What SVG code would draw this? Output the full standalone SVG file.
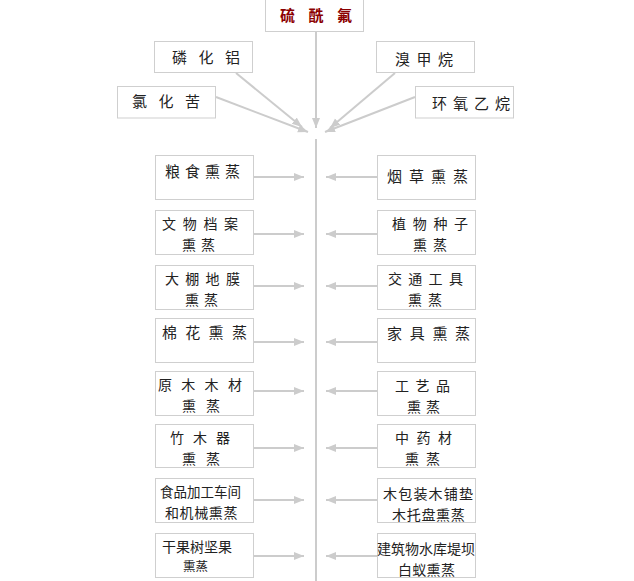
<svg xmlns="http://www.w3.org/2000/svg" width="634" height="581" viewBox="0 0 634 581">
<style>
.box{fill:#fff;stroke:#cfcfcf;stroke-width:1}
.t{font-family:"Noto Sans CJK SC","Noto Sans",sans-serif;font-size:15px;fill:#222}
.s{font-size:14px}
.title{font-family:"Noto Sans CJK SC",sans-serif;font-size:15px;font-weight:bold;fill:#8b0000}
.c{stroke:#cccccc;stroke-width:2;fill:none;marker-end:url(#ah)}
.ln{stroke:#cccccc;stroke-width:2;fill:none}
</style>
<defs>
<marker id="ah" markerUnits="userSpaceOnUse" markerWidth="11" markerHeight="9" refX="10" refY="4" orient="auto">
<path d="M0,0 L10,4 L0,8 z" fill="#cccccc"/>
</marker>
</defs>
<rect width="634" height="581" fill="#fff"/>
<g id="connectors">
<line class="c" x1="316" y1="32" x2="316" y2="128"/>
<line class="c" x1="236" y1="73" x2="302" y2="127"/>
<line class="c" x1="216" y1="97" x2="308" y2="132"/>
<line class="c" x1="395" y1="73" x2="330" y2="128"/>
<line class="c" x1="415" y1="97" x2="325" y2="132"/>
<line class="ln" x1="316" y1="139" x2="316" y2="581"/>
<line class="c" x1="253" y1="177" x2="304" y2="177"/>
<line class="c" x1="377" y1="177" x2="326" y2="177"/>
<line class="c" x1="253" y1="234" x2="304" y2="234"/>
<line class="c" x1="377" y1="234" x2="326" y2="234"/>
<line class="c" x1="253" y1="286" x2="304" y2="286"/>
<line class="c" x1="377" y1="286" x2="326" y2="286"/>
<line class="c" x1="253" y1="342" x2="304" y2="342"/>
<line class="c" x1="377" y1="342" x2="326" y2="342"/>
<line class="c" x1="253" y1="391" x2="304" y2="391"/>
<line class="c" x1="377" y1="391" x2="326" y2="391"/>
<line class="c" x1="253" y1="448" x2="304" y2="448"/>
<line class="c" x1="377" y1="448" x2="326" y2="448"/>
<line class="c" x1="253" y1="500" x2="304" y2="500"/>
<line class="c" x1="377" y1="500" x2="326" y2="500"/>
<line class="c" x1="253" y1="556" x2="304" y2="556"/>
<line class="c" x1="377" y1="556" x2="326" y2="556"/>
</g>
<g id="n-sulfuryl">
<rect class="box" x="265.5" y="-1" width="98" height="32.5"/>
<text class="title" x="280" y="20.5" letter-spacing="13.5">硫酰氟</text>
</g>
<g id="n-alp">
<rect class="box" x="154.5" y="41.5" width="98" height="31"/>
<text class="t" x="172" y="63" letter-spacing="11.5">磷化铝</text>
</g>
<g id="n-chloropicrin">
<rect class="box" x="117.5" y="86.5" width="98" height="31.5"/>
<text class="t" x="132" y="107" letter-spacing="11.5">氯化苦</text>
</g>
<g id="n-mebr">
<rect class="box" x="376.5" y="41.5" width="98" height="31"/>
<text class="t" x="395" y="65" letter-spacing="6.5">溴甲烷</text>
</g>
<g id="n-eo">
<rect class="box" x="415.5" y="86.5" width="98" height="31.5"/>
<text class="t" x="432" y="108.5" letter-spacing="6">环氧乙烷</text>
</g>
<g id="n-grain">
<rect class="box" x="155.5" y="155.5" width="98" height="44"/>
<text class="t" x="165" y="177" letter-spacing="5">粮食熏蒸</text>
</g>
<g id="n-tobacco">
<rect class="box" x="377.5" y="155.5" width="98" height="44"/>
<text class="t" x="387" y="182" letter-spacing="7">烟草熏蒸</text>
</g>
<g id="n-archive">
<rect class="box" x="155.5" y="210.5" width="98" height="44"/>
<text class="t s" x="162" y="229" letter-spacing="6.7">文物档案</text>
<text class="t s" x="182" y="249.5" letter-spacing="5">熏蒸</text>
</g>
<g id="n-seed">
<rect class="box" x="377.5" y="210.5" width="98" height="44"/>
<text class="t s" x="392" y="229" letter-spacing="6.7">植物种子</text>
<text class="t s" x="413" y="249.5" letter-spacing="6">熏蒸</text>
</g>
<g id="n-film">
<rect class="box" x="155.5" y="265.5" width="98" height="44"/>
<text class="t s" x="165" y="284" letter-spacing="6.3">大棚地膜</text>
<text class="t s" x="185" y="304.5" letter-spacing="5">熏蒸</text>
</g>
<g id="n-transport">
<rect class="box" x="377.5" y="265.5" width="98" height="44"/>
<text class="t s" x="388" y="284" letter-spacing="6.3">交通工具</text>
<text class="t s" x="408" y="304.5" letter-spacing="6">熏蒸</text>
</g>
<g id="n-cotton">
<rect class="box" x="155.5" y="318.5" width="98" height="44"/>
<text class="t" x="162" y="338" letter-spacing="8.3">棉花熏蒸</text>
</g>
<g id="n-furniture">
<rect class="box" x="377.5" y="318.5" width="98" height="44"/>
<text class="t" x="387" y="338.5" letter-spacing="7.7">家具熏蒸</text>
</g>
<g id="n-timber">
<rect class="box" x="155.5" y="371.5" width="98" height="44"/>
<text class="t s" x="158" y="390" letter-spacing="9.3">原木木材</text>
<text class="t s" x="182" y="410.5" letter-spacing="10">熏蒸</text>
</g>
<g id="n-craft">
<rect class="box" x="377.5" y="371.5" width="98" height="44"/>
<text class="t s" x="395" y="391" letter-spacing="6.5">工艺品</text>
<text class="t s" x="407" y="411.5" letter-spacing="5">熏蒸</text>
</g>
<g id="n-bamboo">
<rect class="box" x="155.5" y="424.5" width="98" height="43"/>
<text class="t s" x="170" y="443" letter-spacing="9">竹木器</text>
<text class="t s" x="182" y="463.5" letter-spacing="10">熏蒸</text>
</g>
<g id="n-herb">
<rect class="box" x="377.5" y="424.5" width="98" height="43"/>
<text class="t s" x="395" y="443" letter-spacing="7.5">中药材</text>
<text class="t s" x="405" y="463.5" letter-spacing="7">熏蒸</text>
</g>
<g id="n-food">
<rect class="box" x="155.5" y="478.5" width="98" height="44"/>
<text class="t" x="160" y="497" style="font-size:13.5px">食品加工车间</text>
<text class="t s" x="165" y="517.5" letter-spacing="0.6">和机械熏蒸</text>
</g>
<g id="n-pallet">
<rect class="box" x="377.5" y="478.5" width="98" height="44"/>
<text class="t s" x="383" y="499" letter-spacing="1.2">木包装木铺垫</text>
<text class="t s" x="392" y="519.5" letter-spacing="0.7">木托盘熏蒸</text>
</g>
<g id="n-nuts">
<rect class="box" x="155.5" y="533.5" width="98" height="44"/>
<text class="t s" x="162" y="552">干果树坚果</text>
<text class="t" x="183" y="571" style="font-size:12.5px">熏蒸</text>
</g>
<g id="n-termite">
<rect class="box" x="377.5" y="533.5" width="98" height="44"/>
<text class="t s" x="377" y="554">建筑物水库堤坝</text>
<text class="t s" x="398" y="574.5" letter-spacing="0.3">白蚁熏蒸</text>
</g>
</svg>
